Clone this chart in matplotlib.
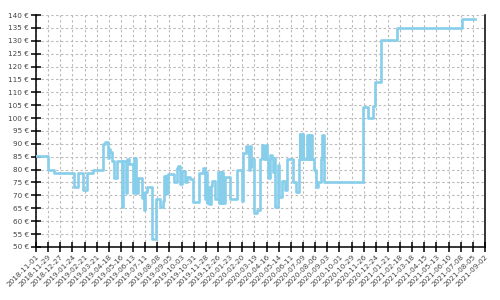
import numpy as np
import pandas as pd
import matplotlib
matplotlib.use("Agg")
import matplotlib.pyplot as plt
import matplotlib.ticker as mticker

# price history (step changes)
dates = [
    "2018-11-01", "2018-11-29", "2018-12-13", "2019-01-27", "2019-02-05",
    "2019-02-18", "2019-02-26", "2019-03-13", "2019-04-04", "2019-04-10",
    "2019-04-15", "2019-04-18", "2019-04-21", "2019-04-25", "2019-05-01",
    "2019-05-08", "2019-05-18", "2019-05-21", "2019-05-28", "2019-05-31",
    "2019-06-04", "2019-06-12", "2019-06-15", "2019-06-20", "2019-06-25",
    "2019-07-03", "2019-07-06", "2019-07-09", "2019-07-11", "2019-07-14",
    "2019-07-27", "2019-08-05", "2019-08-14", "2019-08-20", "2019-08-23",
    "2019-08-25", "2019-08-27", "2019-08-30", "2019-09-01", "2019-09-16",
    "2019-09-22", "2019-09-25", "2019-09-29", "2019-10-03", "2019-10-11",
    "2019-10-15", "2019-10-22", "2019-10-30", "2019-11-11", "2019-11-21",
    "2019-11-26", "2019-11-28", "2019-12-01", "2019-12-04", "2019-12-06",
    "2019-12-10", "2019-12-12", "2019-12-19", "2019-12-26", "2019-12-28",
    "2019-12-30", "2020-01-02", "2020-01-04", "2020-01-06", "2020-01-11",
    "2020-01-23", "2020-02-07", "2020-02-19", "2020-02-22", "2020-02-28",
    "2020-03-05", "2020-03-07", "2020-03-09", "2020-03-11", "2020-03-12",
    "2020-03-19", "2020-03-26", "2020-04-01", "2020-04-06", "2020-04-09",
    "2020-04-14", "2020-04-17", "2020-04-19", "2020-04-24", "2020-04-28",
    "2020-05-01", "2020-05-03", "2020-05-06", "2020-05-12", "2020-05-15",
    "2020-05-22", "2020-05-29", "2020-06-02", "2020-06-15", "2020-06-23",
    "2020-06-30", "2020-07-02", "2020-07-03", "2020-07-05", "2020-07-06",
    "2020-07-08", "2020-07-09", "2020-07-18", "2020-07-21", "2020-07-24",
    "2020-07-26", "2020-07-27", "2020-07-29", "2020-08-04", "2020-08-08",
    "2020-08-13", "2020-08-19", "2020-08-22", "2020-08-27", "2020-11-25",
    "2020-12-07", "2020-12-17", "2020-12-23", "2021-01-04", "2021-02-10",
    "2021-07-11", "2021-08-10",
]
prices = [
    85.2, 79.8, 78.7, 73.4, 78.7,
    72.2, 78.7, 79.7, 89.8, 90.6,
    84.5, 88.0, 86.8, 83.2, 76.8,
    83.2, 65.3, 83.3, 70.8, 84.0,
    82.0, 70.8, 84.6, 70.8, 76.6,
    69.0, 71.0, 64.2, 71.5, 73.2,
    53.0, 68.5, 65.5, 68.0, 77.5,
    70.5, 77.5, 71.0, 78.3, 75.0,
    80.5, 81.3, 74.5, 79.5, 75.3,
    77.3, 76.5, 67.3, 78.8, 80.5,
    68.5, 79.0, 67.0, 73.4, 66.6,
    73.5, 75.6, 68.6, 79.0, 67.0,
    79.0, 67.0, 79.0, 67.0, 77.3,
    68.6, 79.9, 67.9, 86.4, 89.3,
    86.4, 80.0, 89.0, 81.0, 84.0,
    63.0, 64.4, 84.0, 89.5, 84.0,
    89.5, 84.0, 76.9, 85.7, 84.5,
    79.0, 84.5, 65.6, 81.8, 69.5,
    75.4, 72.1, 84.0, 75.0, 71.5,
    84.0, 93.7, 84.0, 93.7, 84.0,
    93.7, 84.0, 93.5, 84.0, 93.5,
    84.0, 93.5, 84.0, 80.0, 73.4,
    75.3, 84.0, 93.5, 75.3, 104.3,
    100.2, 104.8, 114.1, 130.3, 135.1,
    138.4, 138.4,
]

x_start = "2018-11-01"
x_end = "2021-09-02"
tick_step_days = 28

x = pd.to_datetime(dates)
ticks = pd.date_range(x_start, x_end, freq=f"{tick_step_days}D")

fig = plt.figure(figsize=(5, 3), dpi=100)
ax = fig.add_axes([0.072, 0.177, 0.898, 0.773])

ax.step(x, prices, where="post", color="#87CEEB", linewidth=1.9, zorder=3)

ax.set_xlim(pd.Timestamp(x_start), pd.Timestamp(x_end))
ax.set_ylim(50, 140)
ax.set_yticks(np.arange(50, 141, 5))
ax.yaxis.set_major_formatter(mticker.FuncFormatter(lambda v, p: f"{v:.0f} €"))
ax.set_xticks(ticks)
ax.set_xticklabels([t.strftime("%Y-%m-%d") for t in ticks], rotation=45,
                   ha="right", rotation_mode="anchor")

ax.grid(True, color="#bbbbbb", linestyle=(0, (2.2, 2.2)), linewidth=0.8, zorder=0)
ax.spines["top"].set_visible(False)
for s in ["left", "bottom", "right"]:
    ax.spines[s].set_color("black")
    ax.spines[s].set_linewidth(1.1)
ax.tick_params(direction="inout", length=6.5, width=1.1, colors="black",
               labelcolor="#444444", labelsize=5.2)
ax.tick_params(axis="x", pad=1.5)
ax.tick_params(axis="y", pad=2)

fig.savefig("out.png", dpi=100)
